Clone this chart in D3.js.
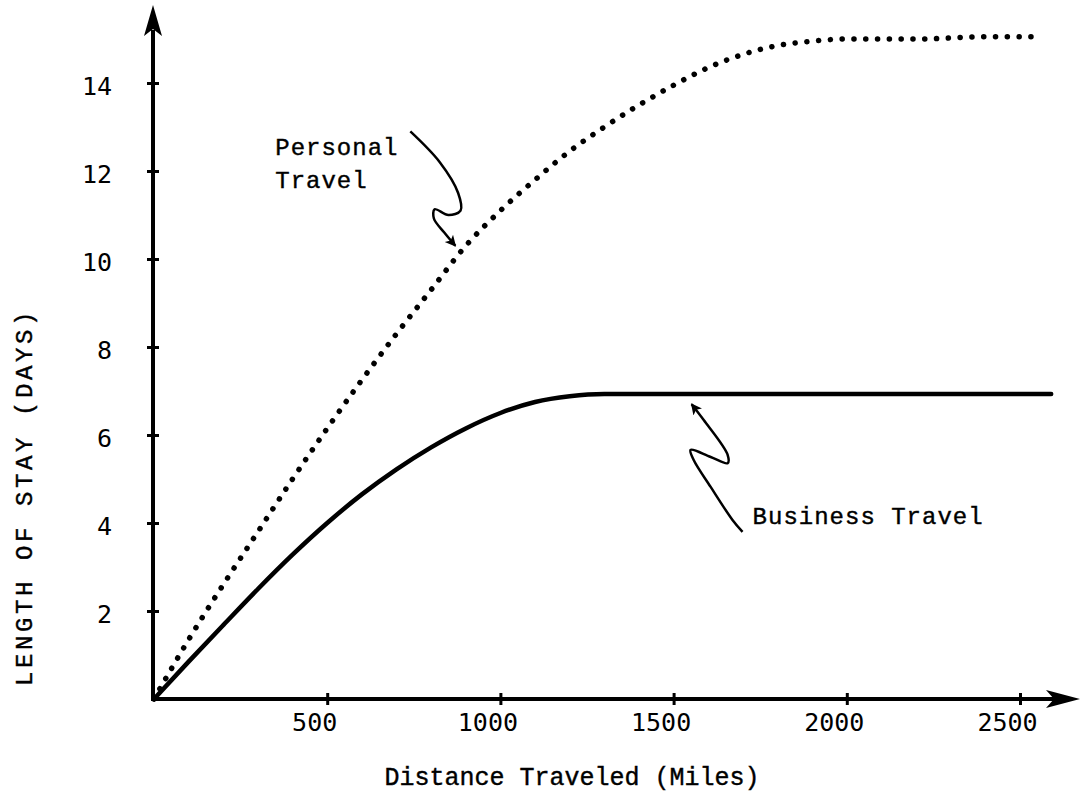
<!DOCTYPE html>
<html>
<head>
<meta charset="utf-8">
<script src="https://cdn.jsdelivr.net/npm/d3@7"></script>
<style>
  body { margin: 0; background: #fff; }
  svg { display: block; }
</style>
</head>
<body>
<svg id="chart" width="1080" height="803"></svg>
<script>
// data
var miles = [0, 100, 200, 300, 400, 500, 600, 700, 800, 900, 1000, 1100, 1200, 1300, 1400, 1500, 1600, 1700, 1800, 1900, 2000, 2200, 2400, 2540, 2590]
var businessDays = [0, 0.85, 1.68, 2.5, 3.28, 4.0, 4.65, 5.22, 5.72, 6.15, 6.5, 6.75, 6.88, 6.93, 6.93, 6.93, 6.93, 6.93, 6.93, 6.93, 6.93, 6.93, 6.93, 6.93, 6.93]
var personalDays = [0, 1.35, 2.6, 3.8, 5.0, 6.15, 7.25, 8.3, 9.3, 10.3, 11.1, 11.8, 12.45, 13.0, 13.5, 13.95, 14.35, 14.65, 14.85, 14.95, 15.0, 15.0, 15.05, 15.05, null]
var xTicks = [500, 1000, 1500, 2000, 2500]
var yTicks = [2, 4, 6, 8, 10, 12, 14]

// hand drawn pointer squiggles, in data units (miles, days)
var personalArrow = [[870, 10.3], [838, 10.6], [808, 10.92], [810, 11.13], [850, 11.0], [885, 11.1], [878, 11.5], [825, 12.2], [740, 12.9]]
var businessArrow = [[1552, 6.7], [1587, 6.34], [1656, 5.55], [1656, 5.36], [1607, 5.50], [1549, 5.66], [1558, 5.43], [1607, 4.82], [1670, 4.07], [1699, 3.80]]

const svg = d3.select('#chart')
const width = 1080

const x = d3.scaleLinear().domain([0, 2500]).range([154, 1020])
const y = d3.scaleLinear().domain([0, 14]).range([699, 83])

const monoFont = "'Liberation Mono', 'Courier New', monospace"
const digitFont = "'DejaVu Sans Mono', monospace"

// arrow head marker for the pointers
svg.append('defs').append('marker')
  .attr('id', 'head')
  .attr('viewBox', '0 0 10 10')
  .attr('refX', 9).attr('refY', 5)
  .attr('markerWidth', 13).attr('markerHeight', 11)
  .attr('markerUnits', 'userSpaceOnUse')
  .attr('orient', 'auto-start-reverse')
  .append('path').attr('d', 'M0,0 L10,5 L0,10 L2.5,5 Z').attr('fill', '#000')

// x axis
const xAxis = d3.axisBottom(x).tickValues(xTicks).tickFormat(d3.format('d')).tickSize(6)
const gx = svg.append('g').attr('transform', `translate(0,${y(0)})`).call(xAxis)
gx.select('.domain').remove()
gx.selectAll('.tick line').attr('y1', -6).attr('y2', 6).attr('stroke', '#000').attr('stroke-width', 3)
gx.selectAll('.tick text').attr('y', 14).attr('dy', '0.71em').attr('dx', -13)
  .style('font-family', digitFont).style('font-size', '25px').attr('fill', '#000')

// y axis
const yAxis = d3.axisLeft(y).tickValues(yTicks).tickFormat(d3.format('d')).tickSize(6)
const gy = svg.append('g').attr('transform', `translate(${x(0) - 1},0)`).call(yAxis)
gy.select('.domain').remove()
gy.selectAll('.tick line').attr('x1', -6).attr('x2', 6).attr('stroke', '#000').attr('stroke-width', 3)
gy.selectAll('.tick text').attr('x', -41).attr('dy', '0.45em')
  .style('font-family', digitFont).style('font-size', '25px').attr('fill', '#000')

// axis lines with arrow tips
svg.append('line')
  .attr('x1', x(0) - 3).attr('x2', width - 20)
  .attr('y1', y(0)).attr('y2', y(0))
  .attr('stroke', '#000').attr('stroke-width', 4)
svg.append('path')
  .attr('d', `M${width},${y(0)} L${width - 34},${y(0) - 9} L${width - 26},${y(0)} L${width - 34},${y(0) + 9} Z`)
  .attr('fill', '#000')

svg.append('line')
  .attr('x1', x(0) - 1).attr('x2', x(0) - 1)
  .attr('y1', y(0) + 2).attr('y2', 30)
  .attr('stroke', '#000').attr('stroke-width', 4)
svg.append('path')
  .attr('d', `M${x(0) - 1},5 L${x(0) - 10},36 L${x(0) - 1},29 L${x(0) + 8},36 Z`)
  .attr('fill', '#000')

// curves
const line = d3.line()
  .defined(d => d[1] != null)
  .x(d => x(d[0]))
  .y(d => y(d[1]))
  .curve(d3.curveMonotoneX)

svg.append('path')
  .datum(miles.map((m, i) => [m, businessDays[i]]))
  .attr('d', line)
  .attr('fill', 'none').attr('stroke', '#000').attr('stroke-width', 4.5)
  .attr('stroke-linejoin', 'round').attr('stroke-linecap', 'round')

svg.append('path')
  .datum(miles.map((m, i) => [m, personalDays[i]]))
  .attr('d', line)
  .attr('fill', 'none').attr('stroke', '#000').attr('stroke-width', 5.5)
  .attr('stroke-dasharray', '0.1 11.7').attr('stroke-linecap', 'round')

// pointer squiggles
const squiggle = d3.line().x(d => x(d[0])).y(d => y(d[1])).curve(d3.curveCatmullRom)
svg.append('path').datum(personalArrow).attr('d', squiggle)
  .attr('fill', 'none').attr('stroke', '#000').attr('stroke-width', 2.5)
  .attr('marker-start', 'url(#head)')
svg.append('path').datum(businessArrow).attr('d', squiggle)
  .attr('fill', 'none').attr('stroke', '#000').attr('stroke-width', 2.5)
  .attr('marker-start', 'url(#head)')

// labels
const labelStyle = sel => sel.style('font-family', monoFont).style('font-size', '24px')
  .style('letter-spacing', '1px').attr('stroke', '#000').attr('stroke-width', 0.4)

svg.append('text').attr('x', x(350)).attr('y', y(12.36)).text('Personal').call(labelStyle)
svg.append('text').attr('x', x(350)).attr('y', y(11.61)).text('Travel').call(labelStyle)
svg.append('text').attr('x', x(1728)).attr('y', y(3.98)).text('Business Travel').call(labelStyle)

// axis titles
svg.append('text')
  .attr('x', 572).attr('y', 785)
  .attr('text-anchor', 'middle')
  .text('Distance Traveled (Miles)')
  .style('font-family', monoFont).style('font-size', '25px')
  .attr('stroke', '#000').attr('stroke-width', 0.4)

svg.append('text')
  .attr('transform', 'translate(32,497) rotate(-90)')
  .attr('text-anchor', 'middle')
  .text('LENGTH OF STAY (DAYS)')
  .style('font-family', monoFont).style('font-size', '24px').style('letter-spacing', '3.6px')
  .attr('stroke', '#000').attr('stroke-width', 0.4)
</script>
</body>
</html>
